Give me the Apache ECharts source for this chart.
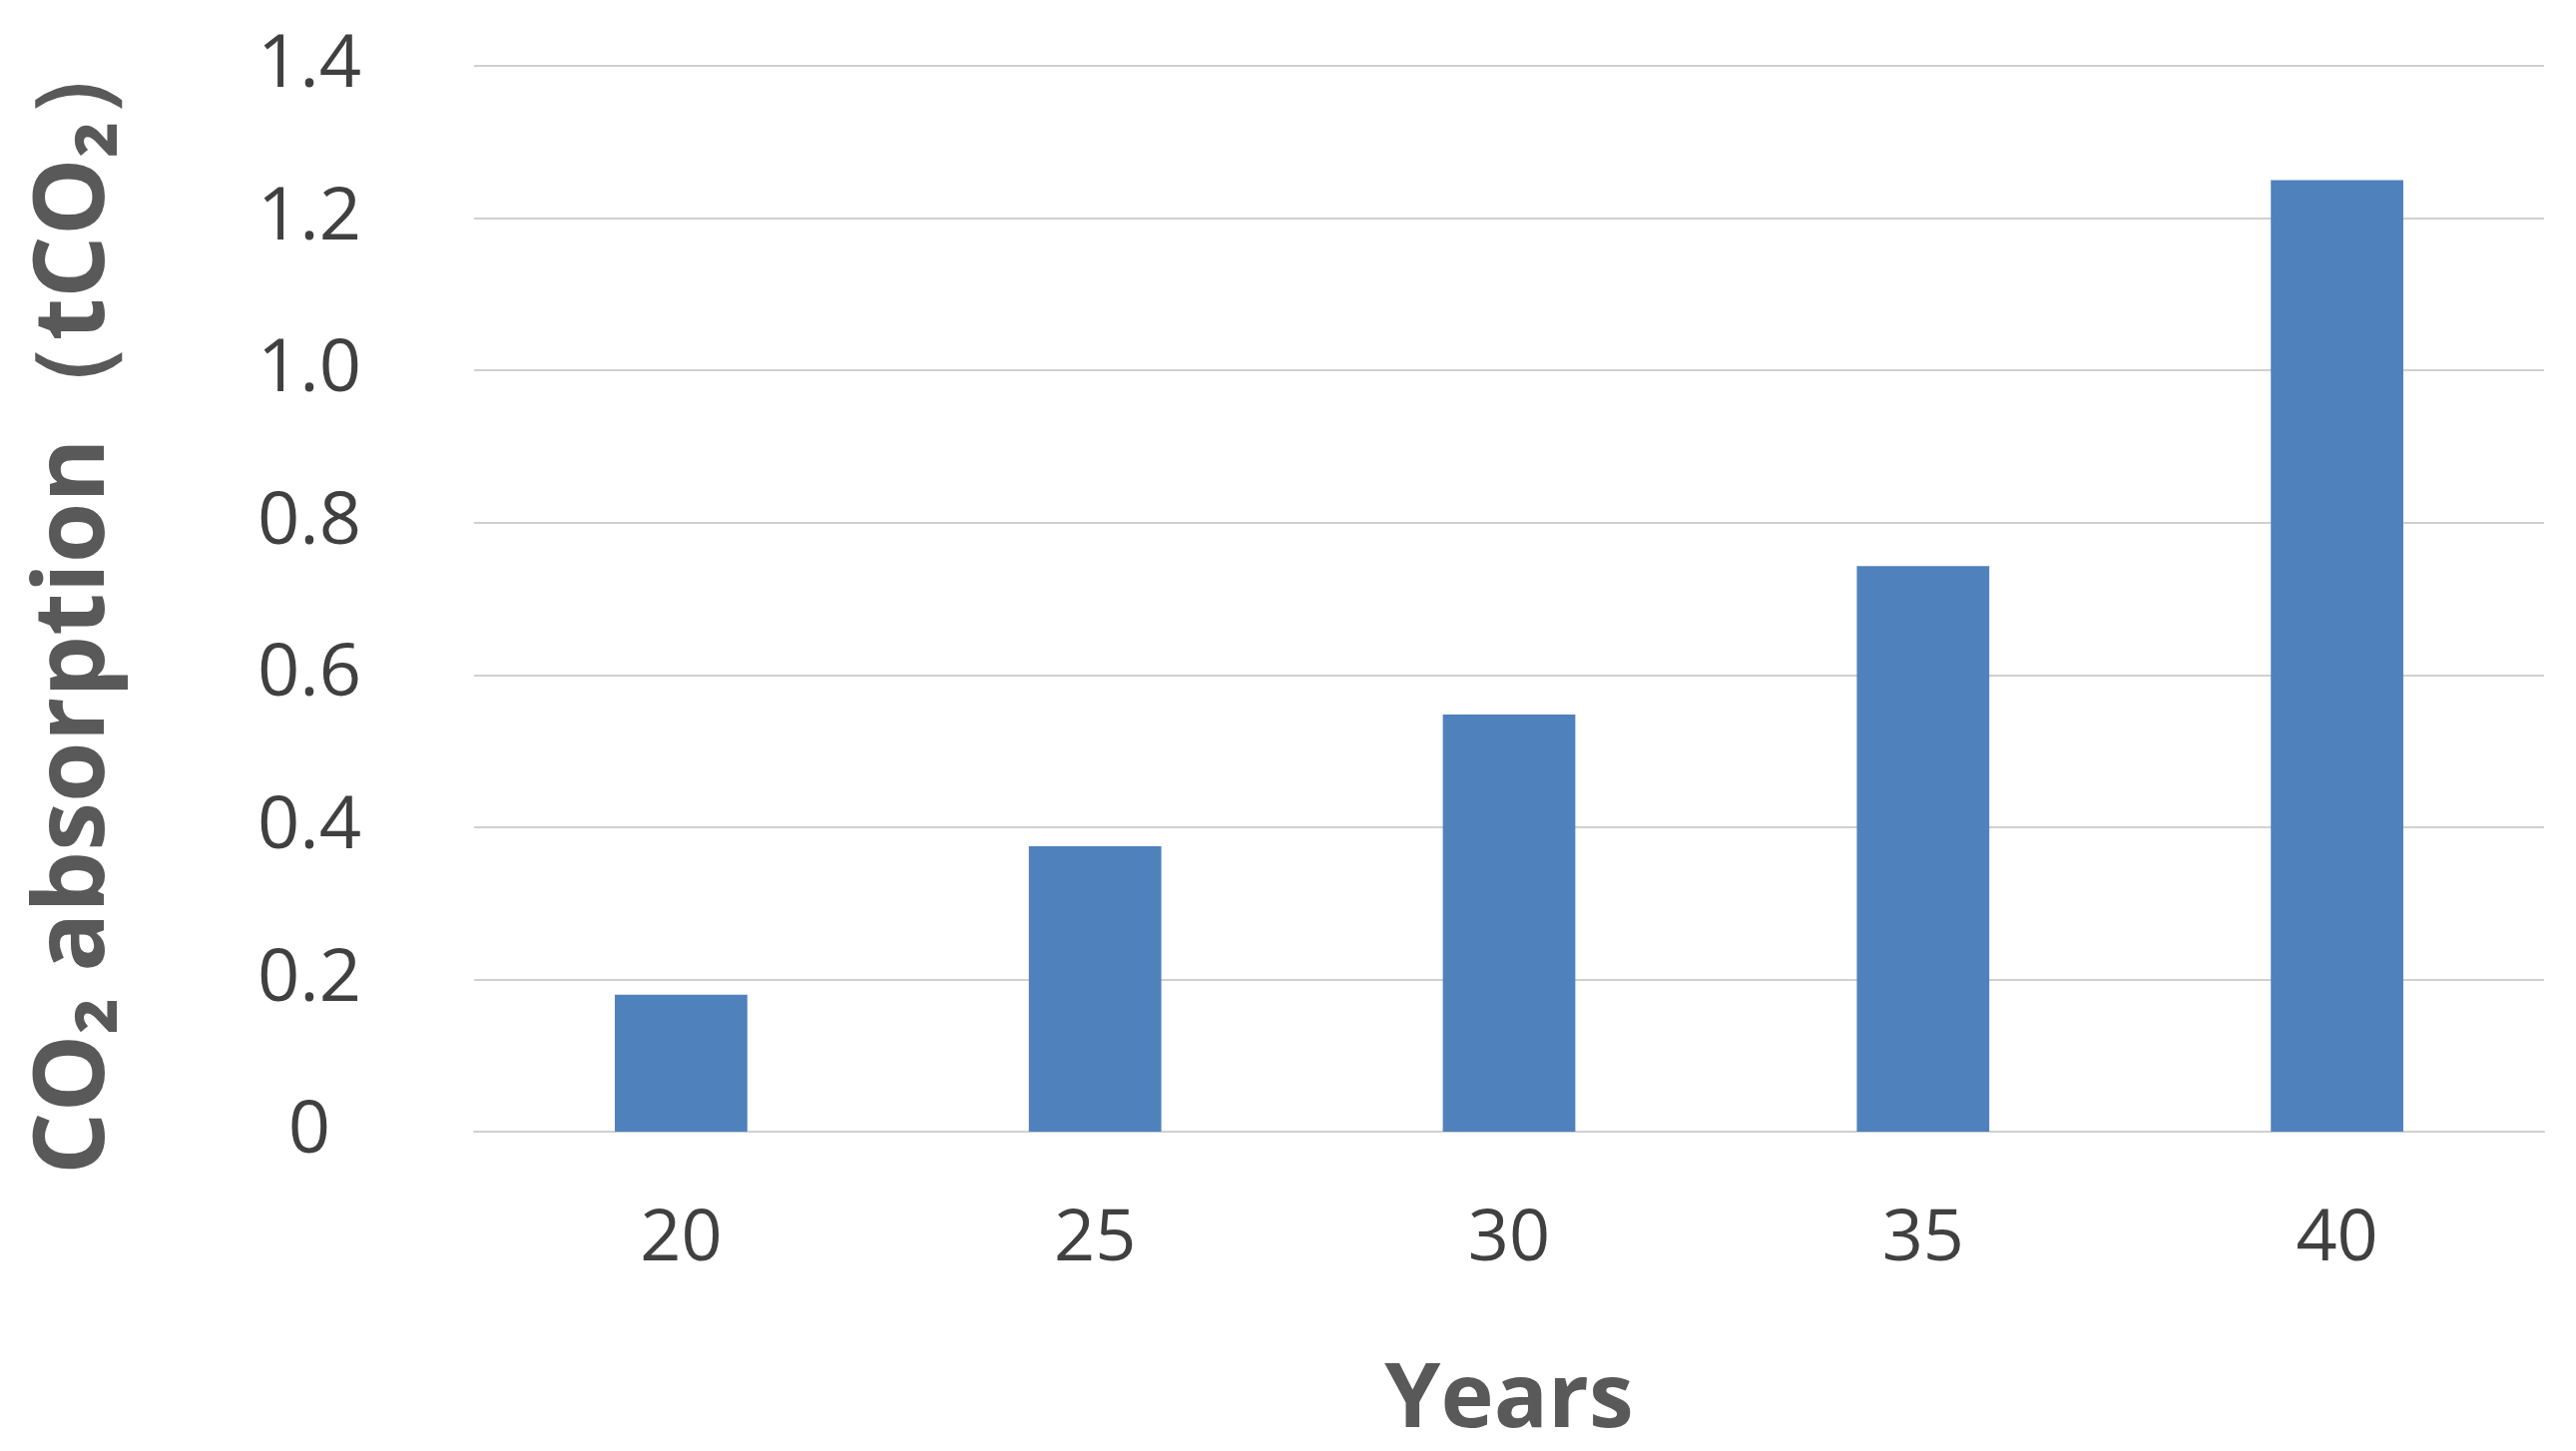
<!DOCTYPE html>
<html lang="en">
<head>
    <meta charset="UTF-8">
    <title>CO2 absorption</title>
    <style>
        html, body { margin: 0; padding: 0; background: #fff; }
        #chart { width: 2581px; height: 1454px; }
    </style>
</head>
<body>
    <div id="chart"></div>
</body>
<script src="https://cdn.jsdelivr.net/npm/echarts@6/dist/echarts.min.js"></script>
<script>
    // data
    const years = ['20', '25', '30', '35', '40']
    const absorption = [0.18, 0.375, 0.548, 0.743, 1.25]
    const yTicks = [0, 0.2, 0.4, 0.6, 0.8, 1.0, 1.2, 1.4]

    const textColor = '#404040'
    const titleColor = '#595959'

    const myChart = echarts.init(document.getElementById('chart'))

    myChart.setOption({
        animation: false,
        grid: { left: 475, right: 32, top: 66, bottom: 319 },
        xAxis: {
            type: 'category',
            data: years,
            name: 'Years',
            nameLocation: 'middle',
            nameGap: 225,
            nameTextStyle: { fontSize: 90, fontWeight: 'bold', color: titleColor, fontFamily: 'Open Sans' },
            axisLine: { lineStyle: { color: '#d0d0d0', width: 2 } },
            axisTick: { show: false },
            axisLabel: { fontSize: 72, color: textColor, margin: 72, fontFamily: 'Open Sans' }
        },
        yAxis: {
            type: 'value',
            min: yTicks[0],
            max: yTicks[yTicks.length - 1],
            interval: 0.2,
            name: 'CO₂ absorption（tCO₂）',
            nameLocation: 'middle',
            nameGap: 350,
            nameTextStyle: { fontSize: 98, fontWeight: 'bold', color: titleColor, fontFamily: 'Open Sans' },
            axisLine: { show: false },
            axisTick: { show: false },
            splitLine: { lineStyle: { color: '#d0d0d0', width: 2 } },
            axisLabel: {
                fontSize: 74, color: textColor, margin: 165, align: 'center', fontFamily: 'Open Sans',
                formatter: v => v === 0 ? '0' : v.toFixed(1)
            }
        },
        series: [{
            type: 'bar',
            data: absorption,
            barWidth: '32%',
            itemStyle: { color: '#4f81bd' }
        }]
    })
</script>
</html>
